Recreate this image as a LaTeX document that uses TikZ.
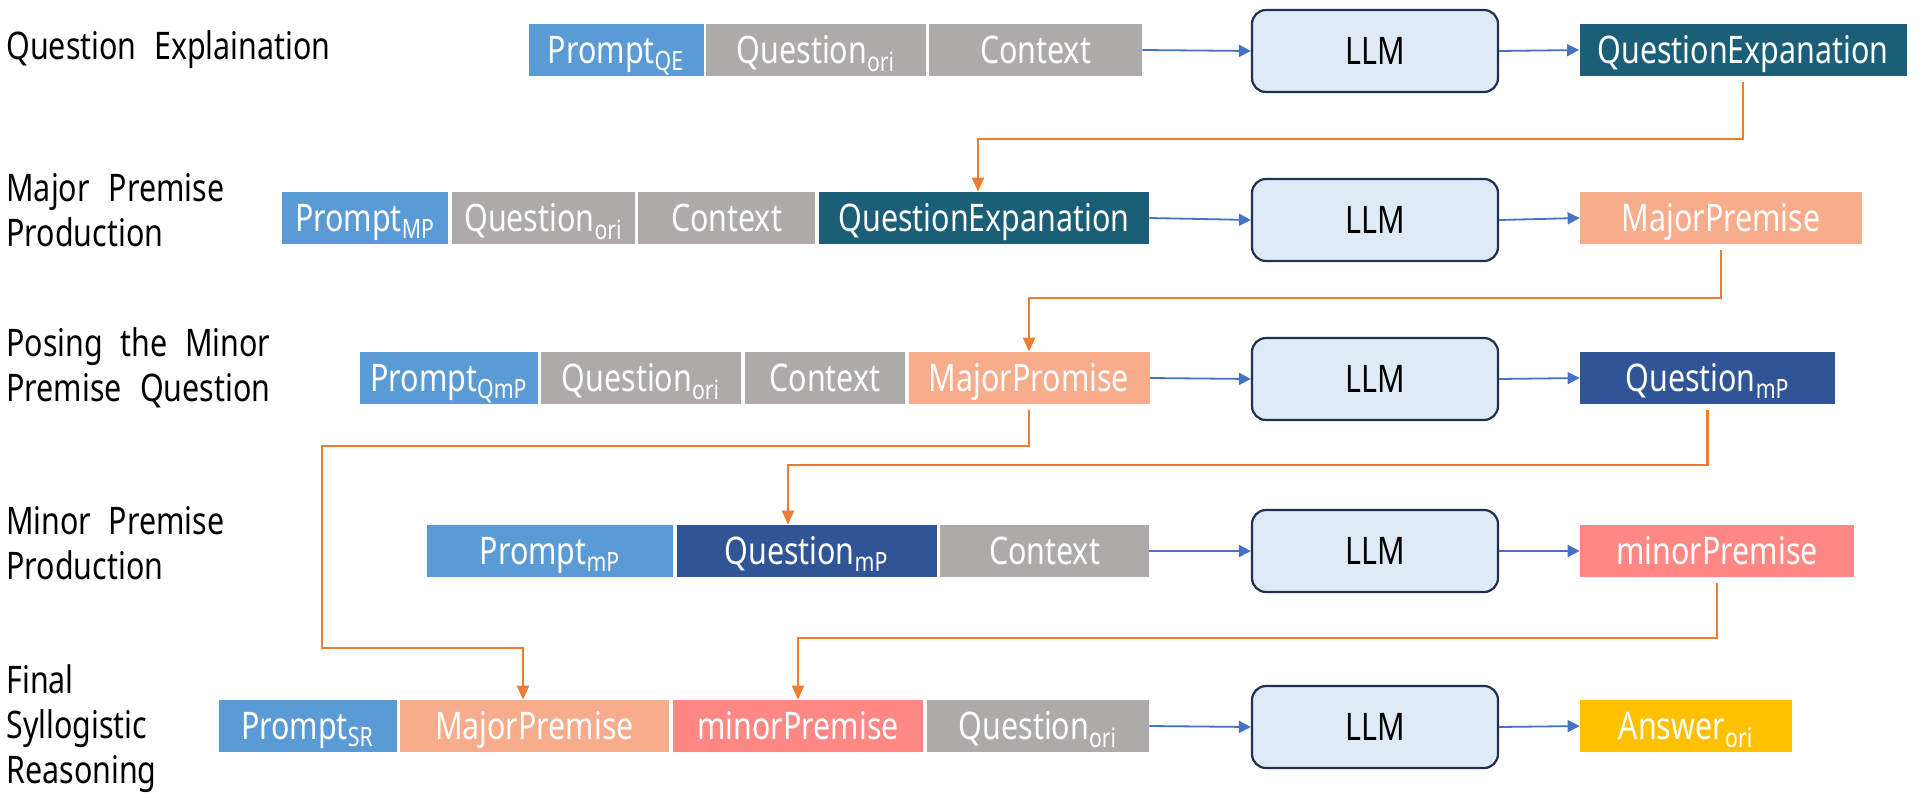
\documentclass[tikz,border=0pt]{standalone}
\usepackage{fontspec}
\setmainfont{Noto Sans}[FakeStretch=0.8]
\usetikzlibrary{arrows.meta}
\definecolor{promptblue}{HTML}{5B9BD5}
\definecolor{oriGray}{HTML}{AEAAAA}
\definecolor{expTeal}{HTML}{1A5E78}
\definecolor{majorSalmon}{HTML}{F7AC8B}
\definecolor{qmpBlue}{HTML}{2F5597}
\definecolor{minorRed}{HTML}{FF8884}
\definecolor{ansYellow}{HTML}{FFC000}
\definecolor{llmFill}{HTML}{DEEBF7}
\definecolor{llmLine}{HTML}{1F3050}
\definecolor{arrowBlue}{HTML}{4472C4}
\definecolor{lineOrange}{HTML}{ED7D31}
\tikzset{
  inbox/.style={rectangle, minimum height=26pt, inner sep=0pt, text height=17pt, text depth=3.4pt, text=white, font=\fontsize{19}{22}\selectfont},
  llmbox/.style={rectangle, rounded corners=7pt, draw=llmLine, line width=1.1pt, fill=llmFill, minimum width=123pt, minimum height=41pt, text height=17pt, text depth=3.4pt, font=\fontsize{19}{22}\selectfont},
  lbl/.style={anchor=west, align=left, inner sep=0pt, font=\fontsize{19}{22.5}\selectfont},
  bluearrow/.style={-{Triangle[length=6pt,width=6pt]}, draw=arrowBlue, line width=0.9pt},
  orangearrow/.style={-{Triangle[length=7pt,width=6pt]}, draw=lineOrange, line width=1.1pt, shorten <=3pt},
}
\begin{document}
\begin{tikzpicture}[x=0.5pt,y=-0.5pt]
\useasboundingbox (0,0) rectangle (1925,797);

% left labels
\node (l1) [lbl] at (6,50) {\makebox[162pt][s]{Question Explaination}};
\node (l2) [lbl] at (6,210) {\makebox[109pt][s]{Major Premise}\\Production};
\node (l3) [lbl] at (6,368) {\makebox[132pt][s]{Posing the Minor}\\\makebox[132pt][s]{Premise Question}};
\node (l4) [lbl] at (6,543) {\makebox[109pt][s]{Minor Premise}\\Production};
\node (l5) [lbl] at (6,729) {Final\\Syllogistic\\Reasoning};

% row 1
\node (p1) [inbox,fill=promptblue,minimum width=87.5pt] at (616,50) {Prompt\textsubscript{QE}};
\node (q1) [inbox,fill=oriGray,minimum width=110pt] at (816,50) {Question\textsubscript{ori}};
\node (c1) [inbox,fill=oriGray,minimum width=106.5pt] at (1035.5,50) {Context};
\node (llm1) [llmbox] at (1375,51) {LLM};
\node (o1) [inbox,fill=expTeal,minimum width=163.5pt] at (1743,50) {QuestionExpanation};

% row 2
\node (p2) [inbox,fill=promptblue,minimum width=83pt] at (365,218) {Prompt\textsubscript{MP}};
\node (q2) [inbox,fill=oriGray,minimum width=91.5pt] at (543.5,218) {Question\textsubscript{ori}};
\node (c2) [inbox,fill=oriGray,minimum width=88.5pt] at (726.5,218) {Context};
\node (e2) [inbox,fill=expTeal,minimum width=165pt] at (984,218) {QuestionExpanation};
\node (llm2) [llmbox] at (1375,220) {LLM};
\node (o2) [inbox,fill=majorSalmon,minimum width=141pt] at (1721,218) {MajorPremise};

% row 3
\node (p3) [inbox,fill=promptblue,minimum width=89pt] at (449,378) {Prompt\textsubscript{QmP}};
\node (q3) [inbox,fill=oriGray,minimum width=100pt] at (641,378) {Question\textsubscript{ori}};
\node (c3) [inbox,fill=oriGray,minimum width=80pt] at (825,378) {Context};
\node (m3) [inbox,fill=majorSalmon,minimum width=120.5pt] at (1029,378) {MajorPromise};
\node (llm3) [llmbox] at (1375,379) {LLM};
\node (o3) [inbox,fill=qmpBlue,minimum width=127.5pt] at (1707.5,378) {Question\textsubscript{mP}};

% row 4
\node (p4) [inbox,fill=promptblue,minimum width=123pt] at (550,551) {Prompt\textsubscript{mP}};
\node (q4) [inbox,fill=qmpBlue,minimum width=130pt] at (806.5,551) {Question\textsubscript{mP}};
\node (c4) [inbox,fill=oriGray,minimum width=104.5pt] at (1044.5,551) {Context};
\node (llm4) [llmbox] at (1375,551) {LLM};
\node (o4) [inbox,fill=minorRed,minimum width=137pt] at (1717,551) {minorPremise};

% row 5
\node (p5) [inbox,fill=promptblue,minimum width=89pt] at (307.5,726) {Prompt\textsubscript{SR}};
\node (m5) [inbox,fill=majorSalmon,minimum width=134.5pt] at (534.5,726) {MajorPremise};
\node (n5) [inbox,fill=minorRed,minimum width=125pt] at (798,726) {minorPremise};
\node (q5) [inbox,fill=oriGray,minimum width=111pt] at (1038,726) {Question\textsubscript{ori}};
\node (llm5) [llmbox] at (1375,727) {LLM};
\node (o5) [inbox,fill=ansYellow,minimum width=106pt] at (1686,726) {Answer\textsubscript{ori}};

% blue arrows
\draw [bluearrow] (c1.east) -- (llm1.west);
\draw [bluearrow] (llm1.east) -- (o1.west);
\draw [bluearrow] (e2.east) -- (llm2.west);
\draw [bluearrow] (llm2.east) -- (o2.west);
\draw [bluearrow] (m3.east) -- (llm3.west);
\draw [bluearrow] (llm3.east) -- (o3.west);
\draw [bluearrow] (c4.east) -- (llm4.west);
\draw [bluearrow] (llm4.east) -- (o4.west);
\draw [bluearrow] (q5.east) -- (llm5.west);
\draw [bluearrow] (llm5.east) -- (o5.west);

% orange feedback lines
\coordinate (k1) at (978,139);
\coordinate (k2) at (1029,298);
\coordinate (k3a) at (322,446);
\coordinate (k3b) at (523,648);
\coordinate (k4) at (788,465);
\coordinate (k5) at (798,638);
\draw [orangearrow] (o1.south) |- (k1) -- (k1 |- e2.north);
\draw [orangearrow] (o2.south) |- (k2) -- (k2 |- m3.north);
\draw [orangearrow] (m3.south) |- (k3a) |- (k3b) -- (k3b |- m5.north);
\draw [orangearrow] (o3.south) |- (k4) -- (k4 |- q4.north);
\draw [orangearrow] (o4.south) |- (k5) -- (k5 |- n5.north);
\end{tikzpicture}
\end{document}
